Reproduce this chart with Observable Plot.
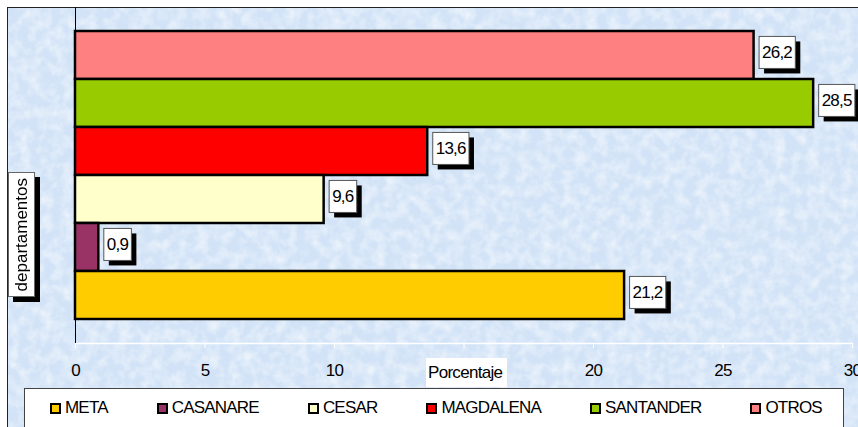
<!DOCTYPE html>
<html>
<head>
<meta charset="utf-8">
<script src="https://cdn.jsdelivr.net/npm/d3@7"></script>
<script src="https://cdn.jsdelivr.net/npm/@observablehq/plot@0.6"></script>
<style>
  html, body { margin: 0; padding: 0; background: #fff; width: 858px; height: 427px; overflow: hidden; }
  body { position: relative; font-family: "Liberation Sans", Arial, sans-serif; color: #000; }
  #frame { position: absolute; left: 7px; top: 7px; width: 851px; height: 420px; background-color: #d2e3f7;
           background-image: url("data:image/svg+xml,%3Csvg xmlns='http://www.w3.org/2000/svg' width='851' height='420'%3E%3Cfilter id='n'%3E%3CfeTurbulence type='fractalNoise' baseFrequency='0.09' numOctaves='3' seed='4'/%3E%3CfeColorMatrix values='0 0 0 0 1  0 0 0 0 1  0 0 0 0 1  0 0 0 1.1 -0.4'/%3E%3C/filter%3E%3Crect width='100%25' height='100%25' filter='url(%23n)'/%3E%3C/svg%3E");
           border-top: 1px solid #222; border-left: 1px solid #222; box-sizing: border-box; }
  #plot { position: absolute; left: 0; top: 0; }
  #plot svg { display: block; overflow: visible; }
  #plot [aria-label="x-axis tick"] { stroke: #fff; }
  #plot [aria-label="x-axis tick label"] text { letter-spacing: -0.8px; }
  #plot g.vlab text { letter-spacing: -0.8px; }
  #ylab { position: absolute; left: 8px; top: 172px; width: 27px; height: 125px; background: #fff;
          border: 1px solid #666; box-sizing: border-box; box-shadow: 5px 5px 0 #000;
          display: flex; align-items: center; justify-content: center; }
  #ylab span { writing-mode: vertical-rl; transform: rotate(180deg); font-size: 17px; white-space: nowrap; }
  #xlab { position: absolute; left: 426px; top: 358px; width: 81px; height: 29px; background: #fff;
          line-height: 29px; padding-left: 2px; box-sizing: border-box; font-size: 17px; letter-spacing: -0.7px; }
  #legend { position: absolute; left: 24px; top: 388px; width: 820px; height: 60px; background: #fff;
            border: 1px solid #444; box-sizing: border-box; display: flex; align-items: flex-start;
            padding: 9px 0 0 25px; gap: 49px; font-size: 17px; line-height: 20px; letter-spacing: -0.8px; }
  #legend .item { display: flex; align-items: center; white-space: nowrap; }
  #legend .sw { width: 11px; height: 11px; border: 2px solid #000; box-sizing: border-box; margin-right: 4px; }
</style>
</head>
<body>
<div id="frame"></div>
<div id="plot"></div>
<div id="ylab"><span>departamentos</span></div>
<div id="xlab">Porcentaje</div>
<div id="legend"></div>
<script>
// Categories, top to bottom as drawn
const departamentos = ["OTROS", "SANTANDER", "MAGDALENA", "CESAR", "CASANARE", "META"];
const porcentajes = [26.2, 28.5, 13.6, 9.6, 0.9, 21.2];
const etiquetas = ["26,2", "28,5", "13,6", "9,6", "0,9", "21,2"];
const colores = ["#FF8080", "#99CC00", "#FF0000", "#FFFFCC", "#993366", "#FFCC00"];
const ordenLeyenda = ["META", "CASANARE", "CESAR", "MAGDALENA", "SANTANDER", "OTROS"];
const xTicks = [0, 5, 10, 15, 20, 25, 30];
// the "15" tick label is hidden behind the axis title in the reference
const xTickLabels = ["0", "5", "10", "", "20", "25", "30"];

const data = departamentos.map((d, i) => ({dep: d, val: porcentajes[i], lab: etiquetas[i]}));

const chart = Plot.plot({
  width: 858,
  height: 388,
  marginLeft: 75,
  marginRight: 6,
  marginTop: 7,
  marginBottom: 45,
  style: {background: "transparent", fontFamily: "'Liberation Sans', Arial, sans-serif", fontSize: "17px", color: "#000", overflow: "visible"},
  x: {domain: [0, 30], ticks: xTicks, label: null},
  y: {domain: departamentos, paddingInner: 0, paddingOuter: 0.5, axis: null},
  color: {domain: departamentos, range: colores},
  marks: [
    Plot.axisX({ticks: xTicks, tickSize: 5, tickPadding: 15, label: null, fontSize: 17,
                tickFormat: d => xTickLabels[xTicks.indexOf(d)]}),
    Plot.frame({anchor: "bottom", stroke: "#fff", strokeWidth: 1.5}),
    Plot.barX(data, {x: "val", y: "dep", fill: "dep", stroke: "#000", strokeWidth: 2.5}),
    Plot.ruleX([0], {stroke: "#000", strokeWidth: 1}),
    Plot.text(data, {x: "val", y: "dep", text: "lab", textAnchor: "start", dx: 8, dy: -3, fontSize: 17, fill: "#000", className: "vlab"})
  ]
});
document.getElementById("plot").append(chart);

// white boxes with black drop shadow behind value labels
const svgRect = chart.getBoundingClientRect();
const labelGroup = chart.querySelector("g.vlab");
const boxes = document.createElementNS("http://www.w3.org/2000/svg", "g");
labelGroup.querySelectorAll("text").forEach(t => {
  const r = t.getBoundingClientRect();
  const x = r.left - svgRect.left - 3;
  const cy = r.top - svgRect.top + r.height / 2;
  const w = r.width + 6, h = 32, y = cy - 16;
  const sh = document.createElementNS("http://www.w3.org/2000/svg", "rect");
  sh.setAttribute("x", x + 5); sh.setAttribute("y", y + 5);
  sh.setAttribute("width", w); sh.setAttribute("height", h); sh.setAttribute("fill", "#000");
  const bx = document.createElementNS("http://www.w3.org/2000/svg", "rect");
  bx.setAttribute("x", x); bx.setAttribute("y", y);
  bx.setAttribute("width", w); bx.setAttribute("height", h);
  bx.setAttribute("fill", "#fff"); bx.setAttribute("stroke", "#555"); bx.setAttribute("stroke-width", 1);
  boxes.append(sh, bx);
});
chart.insertBefore(boxes, labelGroup);

// legend
const leg = document.getElementById("legend");
ordenLeyenda.forEach(name => {
  const item = document.createElement("div");
  item.className = "item";
  const sw = document.createElement("span");
  sw.className = "sw";
  sw.style.background = colores[departamentos.indexOf(name)];
  const lb = document.createElement("span");
  lb.textContent = name;
  item.append(sw, lb);
  leg.append(item);
});
</script>
</body>
</html>
